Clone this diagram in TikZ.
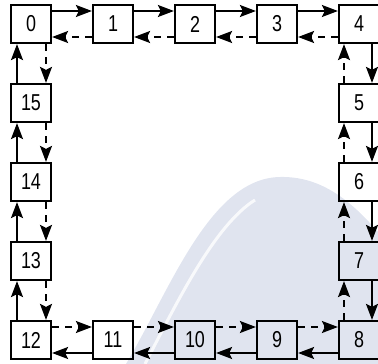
\documentclass[tikz,border=0pt]{standalone}
\usepackage{fontspec}
\newfontfamily\ringfont[FakeStretch=0.78]{Liberation Sans}
\usetikzlibrary{arrows.meta}
\definecolor{wmark}{RGB}{224,228,239}

\begin{document}
\begin{tikzpicture}[x=1pt,y=-1pt,
  cell/.style={draw,line width=2.2pt,minimum width=40pt,minimum height=38pt,inner sep=0pt,
    font=\ringfont\fontsize{23pt}{23pt}\selectfont},
  fwd/.style={line width=1.9pt,-{Stealth[length=16pt,width=12pt,inset=3pt]}},
  bwd/.style={fwd,dash pattern=on 7pt off 6pt}]
\useasboundingbox (0,0) rectangle (378,364);
% watermark
\fill[wmark] (126,364) .. controls (170,290) and (210,178) .. (280,177) .. controls (322,176) and (352,202) .. (378,232) -- (378,364) -- cycle;
\draw[white,line width=3pt,opacity=0.8] (145,364) .. controls (178,300) and (215,225) .. (255,200);
% cells
\foreach \i in {0,...,4}{\node[cell] (n\i) at ({31+82*\i},24) {\i};}
\foreach \i in {5,6,7}{\node[cell] (n\i) at (359,{24+79*(\i-4)}) {\i};}
\foreach \i in {8,...,12}{\node[cell] (n\i) at ({359-82*(\i-8)},340) {\i};}
\foreach \i in {13,14,15}{\node[cell] (n\i) at (31,{340-79*(\i-12)}) {\i};}
% links
\foreach \a/\b in {0/1,1/2,2/3,3/4}{
  \draw[fwd] ([yshift=13pt]n\a.east)--([yshift=13pt]n\b.west);
  \draw[bwd] ([yshift=-13pt]n\b.west)--([yshift=-13pt]n\a.east);}
\foreach \a/\b in {4/5,5/6,6/7,7/8}{
  \draw[fwd] ([xshift=13pt]n\a.south)--([xshift=13pt]n\b.north);
  \draw[bwd] ([xshift=-15pt]n\b.north)--([xshift=-15pt]n\a.south);}
\foreach \a/\b in {8/9,9/10,10/11,11/12}{
  \draw[fwd] ([yshift=-13pt]n\a.west)--([yshift=-13pt]n\b.east);
  \draw[bwd] ([yshift=13pt]n\b.east)--([yshift=13pt]n\a.west);}
\foreach \a/\b in {12/13,13/14,14/15,15/0}{
  \draw[fwd] ([xshift=-14pt]n\a.north)--([xshift=-14pt]n\b.south);
  \draw[bwd] ([xshift=15pt]n\b.south)--([xshift=15pt]n\a.north);}
\end{tikzpicture}
\end{document}
